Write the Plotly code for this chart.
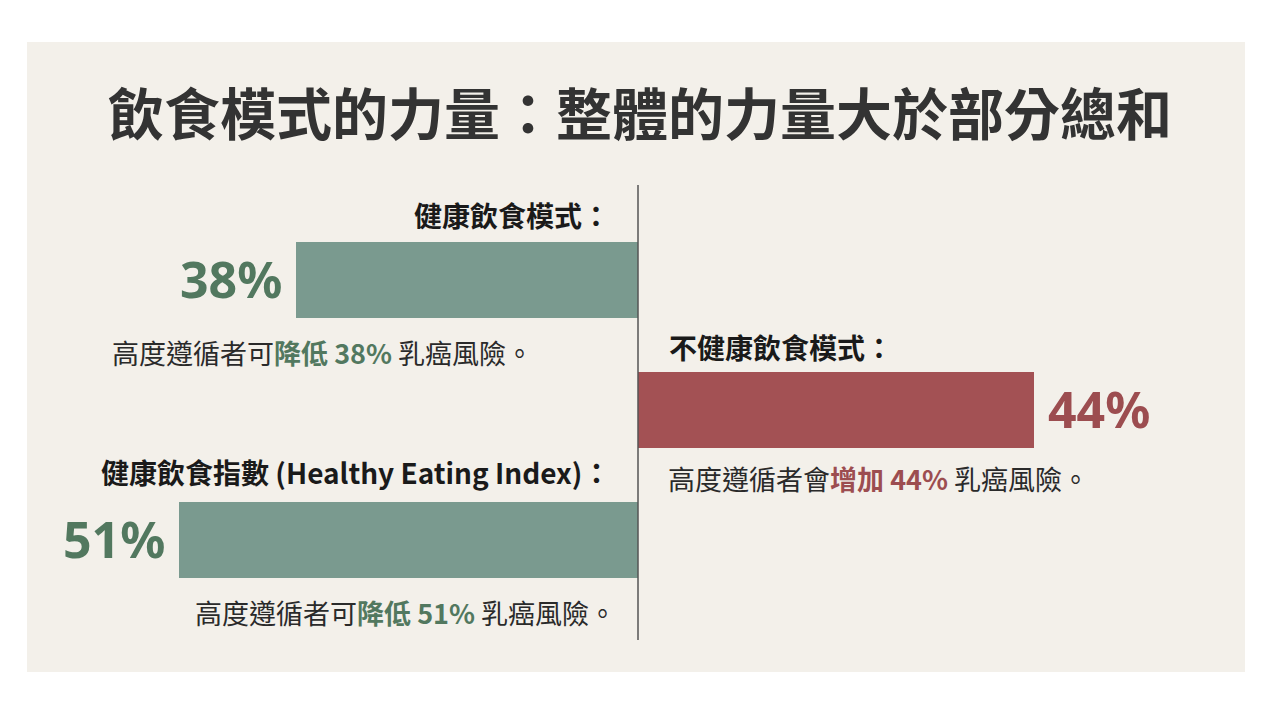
import plotly.graph_objects as go

# ---- data ----
categories = ["健康飲食模式", "不健康飲食模式", "健康飲食指數"]
values = [38, 44, 51]            # % change in breast-cancer risk
direction = [-1, 1, -1]          # -1 = risk reduction (left), +1 = risk increase (right)
headings = ["健康飲食模式：", "不健康飲食模式：", "健康飲食指數 (Healthy Eating Index)："]
verbs = ["降低", "增加", "降低"]
prefix = ["高度遵循者可", "高度遵循者會", "高度遵循者可"]
title_text = "飲食模式的力量：整體的力量大於部分總和"

GREEN_BAR = "#7a9a8f"
GREEN_TXT = "#52785f"
RED_BAR = "#a35154"
RED_TXT = "#9c4d50"
PANEL = "#f3f0ea"
CJK = "Noto Sans CJK TC"

W, H = 1280, 720
PX_PER_PCT = 9.0
ZERO_PX = 638
x_range = [-ZERO_PX / PX_PER_PCT, (W - ZERO_PX) / PX_PER_PCT]
# category spacing 130px, first category centre at y=280px
y_range = [len(categories) - 1 + (H - 540) / 130, -280 / 130]

xs = [v * d for v, d in zip(values, direction)]
bar_colors = [GREEN_BAR if d < 0 else RED_BAR for d in direction]
txt_colors = [GREEN_TXT if d < 0 else RED_TXT for d in direction]

fig = go.Figure()
fig.add_trace(go.Bar(
    y=categories, x=xs, orientation="h", base=0,
    marker=dict(color=bar_colors, line=dict(width=0)),
    width=0.585, hoverinfo="skip", showlegend=False,
))

annotations = []
# title
annotations.append(dict(
    text=f"<b>{title_text}</b>", xref="paper", yref="paper",
    x=0.5, y=1 - 110 / H, xanchor="center", yanchor="middle",
    showarrow=False, font=dict(family=CJK, size=56, color="#333333"),
))

heading_dy = [-65, -63, -68]
desc_dy = [72, 68, 72]
for i, cat in enumerate(categories):
    d = direction[i]
    v = values[i]
    anchor = "right" if d < 0 else "left"
    # percent label beside bar end
    annotations.append(dict(
        text=f"<b>{v}%</b>", xref="x", yref="y", x=xs[i], y=cat,
        xanchor="right" if d < 0 else "left", yanchor="middle",
        xshift=-12 if d < 0 else 12, yshift=1,
        showarrow=False, font=dict(family="Noto Sans", size=50, color=txt_colors[i]),
    ))
    # heading
    annotations.append(dict(
        text=f"<b>{headings[i]}</b>", xref="x", yref="y", x=0, y=cat,
        xanchor=anchor, yanchor="middle",
        xshift=-26 if d < 0 else 29, yshift=-heading_dy[i],
        showarrow=False, font=dict(family=CJK, size=28, color="#1a1a1a"),
    ))
    # description
    desc = (f"{prefix[i]}<span style='color:{txt_colors[i]}'><b>{verbs[i]} {v}%</b></span>"
            f" 乳癌風險。")
    annotations.append(dict(
        text=desc, xref="x", yref="y",
        x=(xs[i] if i == 0 else 0), y=cat,
        xanchor="left" if i in (0, 1) else "right", yanchor="middle",
        xshift=(-186 if i == 0 else (28 if i == 1 else -20)), yshift=-desc_dy[i],
        showarrow=False, font=dict(family=CJK, size=27, color="#2a2a2a"),
    ))

fig.update_layout(
    width=W, height=H,
    margin=dict(l=0, r=0, t=0, b=0),
    paper_bgcolor="#ffffff", plot_bgcolor="rgba(0,0,0,0)",
    xaxis=dict(range=x_range, visible=False, fixedrange=True),
    yaxis=dict(range=y_range, visible=False, type="category",
               categoryorder="array", categoryarray=categories, fixedrange=True),
    annotations=annotations,
    shapes=[
        dict(type="rect", xref="paper", yref="paper", layer="below",
             x0=27 / W, x1=1245 / W, y0=1 - 672 / H, y1=1 - 42 / H,
             fillcolor=PANEL, line=dict(width=0)),
        dict(type="line", xref="x", yref="paper", x0=0, x1=0,
             y0=1 - 640 / H, y1=1 - 185 / H, line=dict(color="#555555", width=1.5)),
    ],
    bargap=0,
)

fig.write_html("out.html", config={"displayModeBar": False})
